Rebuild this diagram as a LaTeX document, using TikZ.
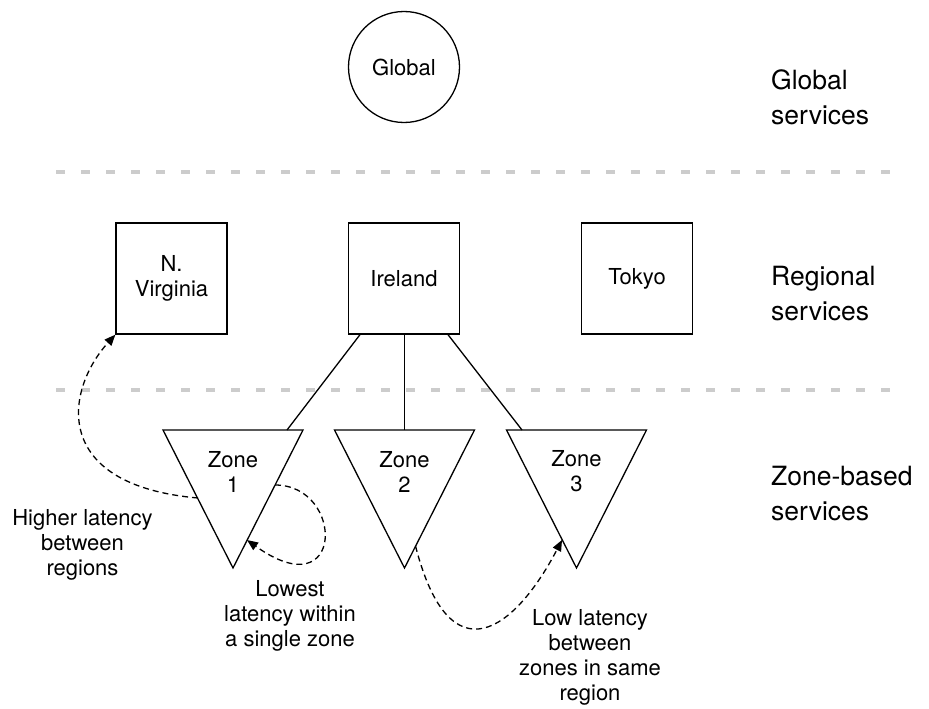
\documentclass[tikz,border=0pt]{standalone}
\usepackage{fontspec}
\setmainfont{TeX Gyre Heros}
\usetikzlibrary{arrows.meta,calc}
\tikzset{
  shp/.style={draw,line width=1.3pt,inner sep=0pt},
  box/.style={shp,minimum width=111pt,minimum height=111pt,align=center,font=\fontsize{22}{25}\selectfont},
  zonetxt/.style={inner sep=0pt,align=center,font=\fontsize{22}{25}\selectfont},
  note/.style={inner sep=0pt,align=center,font=\fontsize{22}{25}\selectfont},
  tier/.style={inner sep=0pt,align=left,anchor=west,font=\fontsize{26.5}{35}\selectfont},
  sep/.style={draw=black!20,line width=4pt,dash pattern=on 9pt off 16pt},
  link/.style={draw,line width=1.3pt},
  lat/.style={draw,line width=1.3pt,dash pattern=on 6pt off 4pt,-{Triangle[length=11pt,width=9pt]}}
}
\begin{document}
\begin{tikzpicture}[x=1pt,y=-1pt]
\useasboundingbox (0,0) rectangle (929,709);
% separators
\coordinate (s1a) at (56,172); \coordinate (s1b) at (902,172);
\coordinate (s2a) at (56,390); \coordinate (s2b) at (902,390);
\draw[sep] (s1a) -- (s1b);
\draw[sep] (s2a) -- (s2b);
% global
\node[shp,circle,minimum size=111pt,font=\fontsize{22}{25}\selectfont] (glob) at (404,67) {Global};
% regions
\node[box] (nv) at (171.5,278.5) {N.\\Virginia};
\node[box] (ire) at (404,278.5) {Ireland};
\node[box] (tok) at (637,278.5) {Tokyo};
% zones (triangles)
\coordinate (z1a) at (163,430); \coordinate (z1b) at (303,430); \coordinate (z1c) at (233,568);
\coordinate (z2a) at (334.5,430); \coordinate (z2b) at (474.5,430); \coordinate (z2c) at (404.5,568);
\coordinate (z3a) at (506.5,430); \coordinate (z3b) at (646.5,430); \coordinate (z3c) at (576.5,568);
\draw[shp,line join=miter] (z1a) -- (z1b) -- (z1c) -- cycle;
\draw[shp,line join=miter] (z2a) -- (z2b) -- (z2c) -- cycle;
\draw[shp,line join=miter] (z3a) -- (z3b) -- (z3c) -- cycle;
\node[zonetxt] (z1t) at (233,471.5) {Zone\\1};
\node[zonetxt] (z2t) at (404.5,471.5) {Zone\\2};
\node[zonetxt] (z3t) at (576.5,471.5) {Zone\\3};
% links Ireland -> zones
\coordinate (l1) at (287,430); \coordinate (l2) at (404.5,430); \coordinate (l3) at (522,430);
\draw[link] ($(ire.south)+(-44,0)$) -- (l1);
\draw[link] ($(ire.south)+(0.5,0)$) -- (l2);
\draw[link] ($(ire.south)+(44,0)$) -- (l3);
% latency arrows
\coordinate (a1s) at (198,498);
\coordinate (a2s) at (275,485); \coordinate (a2e) at (247,540);
\coordinate (a3s) at (415.5,546); \coordinate (a3e) at (562,540);
\draw[lat] (a1s) .. controls (50,485) and (65,390) .. (nv.south west);
\draw[lat] (a2s) .. controls (345,485) and (345,610) .. (a2e);
\draw[lat] (a3s) .. controls (450,680) and (515,630) .. (a3e);
% notes
\node[note] (n1) at (82.5,545) {Higher latency\\between\\regions};
\node[note] (n2) at (290,616) {Lowest\\latency within\\a single zone};
\node[note] (n3) at (590,657) {Low latency\\between\\zones in same\\region};
% tier labels
\node[tier] (t1) at (771,97) {Global\\services};
\node[tier] (t2) at (771,294) {Regional\\services};
\node[tier] (t3) at (771,494) {Zone-based\\services};
\end{tikzpicture}
\end{document}
